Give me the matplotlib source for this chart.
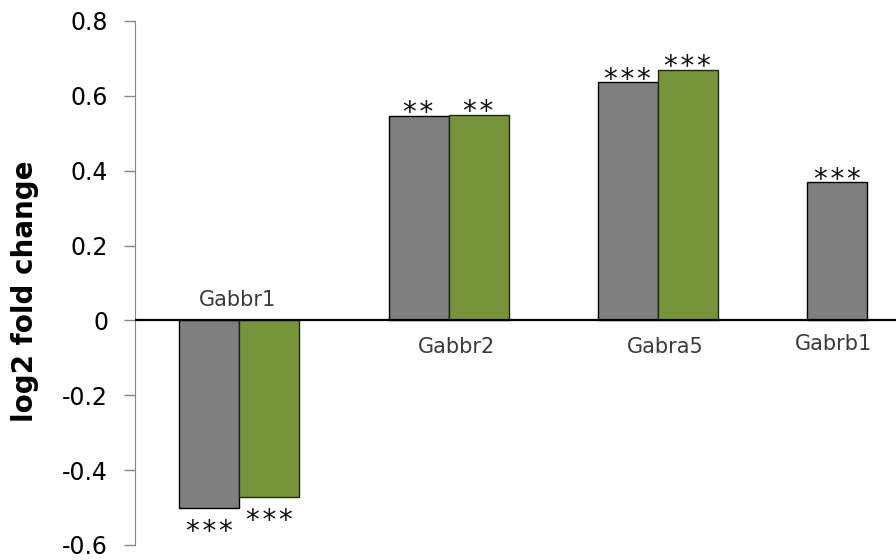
import numpy as np
import matplotlib
matplotlib.use("Agg")
import matplotlib.pyplot as plt

genes = ["Gabbr1", "Gabbr2", "Gabra5", "Gabrb1"]
grey_vals = [-0.50, 0.546, 0.636, 0.369]
green_vals = [-0.472, 0.550, 0.670, np.nan]   # no green bar for Gabrb1
grey_stars = ["***", "**", "***", "***"]
green_stars = ["***", "**", "***", ""]

# where the gene names sit (x shift from category centre, y in data units)
name_dx = [-0.006, 0.04, 0.034, -0.159]
name_y = [0.055, -0.071, -0.071, -0.063]

GREY = "#7f7f7f"
GREEN = "#77933c"

fig = plt.figure(figsize=(8.96, 5.6), dpi=100)
# axes run past the right edge so the last group is cut off
ax = fig.add_axes([0.1502, 0.0268, 0.9344, 0.9357])

x = np.arange(len(genes)) + 0.5
w = 0.2866
ax.bar(x - w / 2, grey_vals, w, color=GREY, edgecolor="black", linewidth=1.0, zorder=2)
ax.bar(x + w / 2, green_vals, w, color=GREEN, edgecolor="#1e2a10", linewidth=1.0, zorder=2)

ax.axhline(0, color="black", lw=1.6, zorder=3)

ax.set_xlim(0, len(genes))
ax.set_ylim(-0.6, 0.8)
ax.set_yticks(np.arange(-0.6, 0.81, 0.2))
ax.set_yticklabels(["-0.6", "-0.4", "-0.2", "0", "0.2", "0.4", "0.6", "0.8"])
ax.set_xticks([])
for s in ["top", "right", "bottom"]:
    ax.spines[s].set_visible(False)
ax.spines["left"].set_color("#868686")
ax.tick_params(axis="y", direction="out", length=8, width=1, color="#868686",
               labelsize=17, pad=11)

# significance stars above / below each bar
def stars(xpos, vals, marks):
    for xi, v, m in zip(xpos, vals, marks):
        if not m or np.isnan(v):
            continue
        off = -3.9 if v > 0 else -23.3
        ax.annotate("\u200a".join(m), (xi, v), xytext=(0, off), textcoords="offset points",
                    ha="center", va="baseline", fontsize=20, color="#111111")

stars(x - w / 2, grey_vals, grey_stars)
stars(x + w / 2, green_vals, green_stars)

for xi, g, dx, y in zip(x, genes, name_dx, name_y):
    ax.text(xi + dx, y, g, ha="center", va="center", fontsize=15, color="#3a3a3a")

fig.text(25 / 896, 1 - 291.5 / 560, "log2 fold change", rotation=90,
         ha="center", va="center", fontsize=20, fontweight="bold")

fig.savefig("out.png", dpi=100)
